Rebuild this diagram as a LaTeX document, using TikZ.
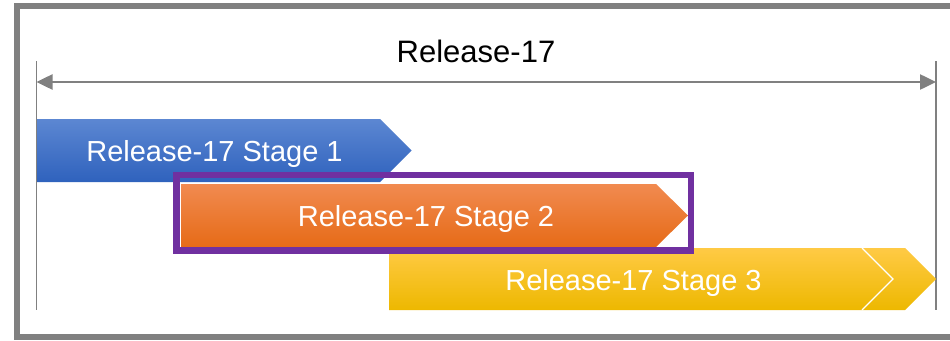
\documentclass[tikz,border=0pt]{standalone}
\usepackage{fontspec}
\setmainfont{Liberation Sans}
\usetikzlibrary{arrows.meta}
\definecolor{framegray}{HTML}{808080}
\definecolor{bluetop}{HTML}{5C87D2}
\definecolor{bluemid}{HTML}{4171C6}
\definecolor{bluebot}{HTML}{2F62BD}
\definecolor{orangetop}{HTML}{F18A50}
\definecolor{orangemid}{HTML}{EF7A2C}
\definecolor{orangebot}{HTML}{E66B17}
\definecolor{yellowtop}{HTML}{FFCA45}
\definecolor{yellowmid}{HTML}{FFC600}
\definecolor{yellowbot}{HTML}{EDB800}
\definecolor{hlpurple}{HTML}{7030A0}
\tikzset{
  stagetext/.style={anchor=base, text=white, font=\fontsize{29}{34}\selectfont, inner sep=0pt},
  titletext/.style={anchor=base, text=black, font=\fontsize{31}{36}\selectfont, inner sep=0pt},
  guide/.style={draw=framegray, line width=1.2pt},
  span/.style={draw=framegray, line width=2.5pt, {Triangle[length=16pt,width=15pt]}-{Triangle[length=16pt,width=15pt]}},
  stageshape/.style={draw=white, line width=0.8pt}
}
\begin{document}
\begin{tikzpicture}[x=1pt,y=-1pt]
\useasboundingbox (0,0) rectangle (950,340);
\clip (0,0) rectangle (950,340);
% outer frame
\draw[framegray, line width=6pt] (17,6) rectangle (980,337);
% guide lines
\coordinate (gL1) at (36.5,61);
\coordinate (gL2) at (36.5,310);
\coordinate (gR1) at (936,61);
\coordinate (gR2) at (936,310);
\draw[guide] (gL1) -- (gL2);
\draw[guide] (gR1) -- (gR2);
% span arrow
\coordinate (aL) at (36.5,82);
\coordinate (aR) at (936,82);
\draw[span] (aL) -- (aR);
\node[titletext] (title) at (476,62) {Release-17};
% stage 1
\shade[top color=bluetop, middle color=bluemid, bottom color=bluebot]
  (37,119) -- (380,119) -- (411.5,150.5) -- (380,182) -- (37,182) -- cycle;
\node[stagetext] (s1) at (214.5,161) {Release-17 Stage 1};
% stage 3
\shade[top color=yellowtop, middle color=yellowmid, bottom color=yellowbot]
  (389,248) -- (905,248) -- (936,279) -- (905,310) -- (389,310) -- cycle;
\draw[white, line width=1.2pt] (862,248) -- (893,279) -- (862,310);
\node[stagetext] (s3) at (633.5,290) {Release-17 Stage 3};
% stage 2
\shade[top color=orangetop, middle color=orangemid, bottom color=orangebot]
  (181,184) -- (656,184) -- (688,215.5) -- (656,247) -- (181,247) -- cycle;
\node[stagetext] (s2) at (426,226.5) {Release-17 Stage 2};
% highlight box
\draw[hlpurple, line width=6.5pt] (176.5,175) rectangle (691,250.5);
\end{tikzpicture}
\end{document}
